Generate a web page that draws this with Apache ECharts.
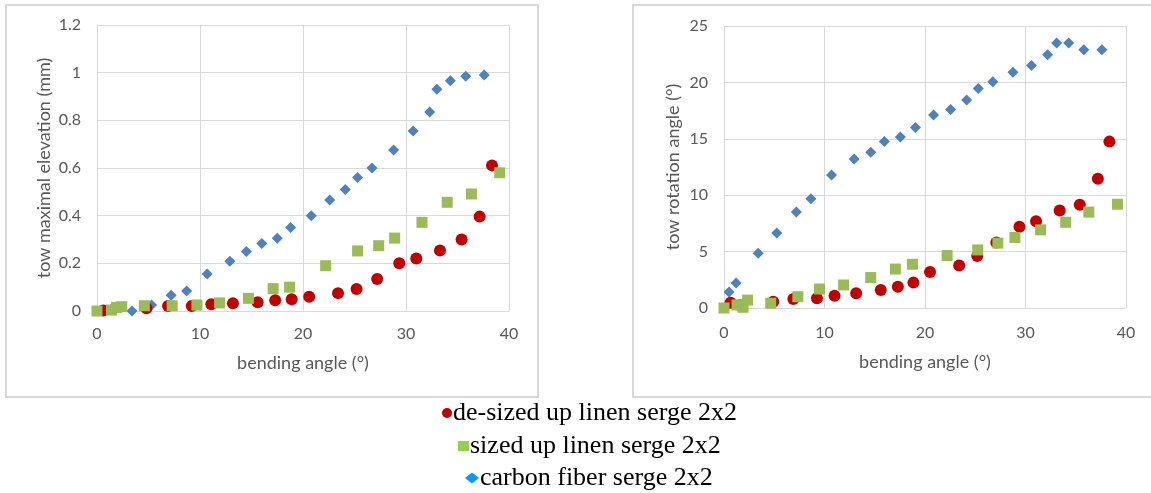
<!DOCTYPE html>
<html>
<head>
<meta charset="utf-8">
<script src="https://cdn.jsdelivr.net/npm/echarts@6/dist/echarts.min.js"></script>
<style>
  html, body { margin: 0; padding: 0; background: #fff; }
  #main { width: 1151px; height: 493px; }
</style>
</head>
<body>
<div id="main"></div>
<script>
// series names (legend)
var nameRed = 'de-sized up linen serge 2x2';
var nameGreen = 'sized up linen serge 2x2';
var nameBlue = 'carbon fiber serge 2x2';

// ticks
var xTicks = [0, 10, 20, 30, 40];
var elevTicks = [0, 0.2, 0.4, 0.6, 0.8, 1, 1.2];
var rotTicks = [0, 5, 10, 15, 20, 25];

// left chart : tow maximal elevation (mm)
var elevRedX = [0.6, 4.8, 6.9, 9.2, 11.1, 13.2, 15.6, 17.3, 18.9, 20.6, 23.4, 25.2, 27.2, 29.35, 31.0, 33.3, 35.4, 37.15, 38.35];
var elevRedY = [0.002, 0.012, 0.021, 0.021, 0.028, 0.032, 0.037, 0.045, 0.049, 0.06, 0.075, 0.092, 0.134, 0.20, 0.22, 0.254, 0.30, 0.396, 0.611];
var elevGreenX = [0, 1.4, 1.9, 2.4, 4.6, 7.3, 9.7, 11.9, 14.7, 17.1, 18.7, 22.2, 25.3, 27.35, 28.9, 31.55, 34.0, 36.35, 39.1];
var elevGreenY = [0, 0.004, 0.015, 0.018, 0.022, 0.022, 0.025, 0.034, 0.053, 0.094, 0.10, 0.19, 0.252, 0.274, 0.306, 0.372, 0.456, 0.491, 0.58];
var elevBlueX = [1.3, 3.4, 5.3, 7.2, 8.7, 10.7, 12.9, 14.5, 16.0, 17.5, 18.8, 20.8, 22.6, 24.1, 25.3, 26.7, 28.8, 30.7, 32.3, 33.0, 34.3, 35.8, 37.6];
var elevBlueY = [0.005, 0, 0.025, 0.066, 0.084, 0.155, 0.209, 0.25, 0.283, 0.305, 0.35, 0.40, 0.466, 0.51, 0.56, 0.60, 0.676, 0.755, 0.835, 0.93, 0.966, 0.985, 0.99];

// right chart : tow rotation angle (°)
var rotRedX = [0.65, 1.6, 4.9, 6.9, 9.25, 11.0, 13.15, 15.6, 17.3, 18.85, 20.5, 23.4, 25.2, 27.1, 29.4, 31.05, 33.4, 35.4, 37.2, 38.35];
var rotRedY = [0.47, 0.25, 0.56, 0.8, 0.86, 1.09, 1.3, 1.6, 1.89, 2.25, 3.2, 3.76, 4.6, 5.8, 7.2, 7.7, 8.65, 9.15, 11.45, 14.75];
var rotGreenX = [0, 1.3, 1.9, 2.35, 4.65, 7.35, 9.5, 11.9, 14.6, 17.05, 18.75, 22.2, 25.25, 27.25, 28.95, 31.5, 34.0, 36.3, 39.15];
var rotGreenY = [0, 0.27, 0.06, 0.7, 0.42, 1.0, 1.68, 2.04, 2.7, 3.45, 3.88, 4.65, 5.15, 5.75, 6.25, 6.93, 7.6, 8.5, 9.2];
var rotBlueX = [0.5, 1.2, 3.4, 5.25, 7.2, 8.65, 10.7, 12.95, 14.6, 15.95, 17.55, 19.05, 20.85, 22.55, 24.15, 25.3, 26.75, 28.75, 30.6, 32.2, 33.1, 34.3, 35.8, 37.6];
var rotBlueY = [1.42, 2.22, 4.86, 6.64, 8.5, 9.69, 11.8, 13.2, 13.8, 14.75, 15.15, 16.0, 17.1, 17.6, 18.45, 19.45, 20.05, 20.9, 21.5, 22.45, 23.5, 23.5, 22.9, 22.9];

function pairs(xs, ys) {
	return xs.map(function (x, i) { return [x, ys[i]]; });
}

var axisFont = 'Lato, "Open Sans", sans-serif';
var gridColor = '#d9d9d9';
var labelColor = '#595959';
var red = '#c00000', green = '#9bbb59', blue = '#4f81bd';

function xAxisCfg(idx, gap, margin) {
	return {
		type: 'value', gridIndex: idx,
		min: xTicks[0], max: xTicks[xTicks.length - 1], interval: xTicks[1] - xTicks[0],
		name: 'bending angle (°)', nameLocation: 'middle', nameGap: gap,
		nameTextStyle: { color: labelColor, fontSize: 18, fontFamily: axisFont },
		axisLine: { show: true, lineStyle: { color: gridColor } },
		axisTick: { show: false },
		axisLabel: { color: labelColor, fontSize: 16, fontFamily: axisFont, margin: margin },
		splitLine: { show: true, lineStyle: { color: gridColor } }
	};
}

function yAxisCfg(idx, ticks, name, gap) {
	return {
		type: 'value', gridIndex: idx,
		min: ticks[0], max: ticks[ticks.length - 1], interval: ticks[1] - ticks[0],
		name: name, nameLocation: 'middle', nameGap: gap,
		nameTextStyle: { color: labelColor, fontSize: 18, fontFamily: axisFont },
		axisLine: { show: true, lineStyle: { color: gridColor } },
		axisTick: { show: false },
		axisLabel: { color: labelColor, fontSize: 16, fontFamily: axisFont, margin: 16 },
		splitLine: { show: true, lineStyle: { color: gridColor } }
	};
}

function scatter(name, idx, data, symbol, size, color) {
	return {
		name: name, type: 'scatter', xAxisIndex: idx, yAxisIndex: idx,
		data: data, symbol: symbol, symbolSize: size,
		itemStyle: { color: color, opacity: 1 },
		emphasis: { disabled: true }
	};
}

function legendLine(name, icon, color, w, h, left, top) {
	return {
		data: [{ name: name, icon: icon, itemStyle: { color: color } }],
		left: left, top: top, itemWidth: w, itemHeight: h,
		selectedMode: false,
		textStyle: { color: '#000', fontSize: 26, fontFamily: '"Liberation Serif", "Times New Roman", serif', padding: [0, 0, 0, -4] }
	};
}

var chart = echarts.init(document.getElementById('main'));
chart.setOption({
	animation: false,
	backgroundColor: '#fff',
	graphic: [
		{ type: 'rect', shape: { x: 6, y: 5, width: 532, height: 392 }, style: { fill: null, stroke: gridColor, lineWidth: 2 }, silent: true },
		{ type: 'rect', shape: { x: 633, y: 5, width: 520, height: 392 }, style: { fill: null, stroke: gridColor, lineWidth: 2 }, silent: true }
	],
	grid: [
		{ left: 97, top: 25, width: 412, height: 286 },
		{ left: 724, top: 26, width: 402, height: 282 }
	],
	xAxis: [xAxisCfg(0, 43, 15), xAxisCfg(1, 45, 17)],
	yAxis: [
		yAxisCfg(0, elevTicks, 'tow maximal elevation (mm)', 44),
		yAxisCfg(1, rotTicks, 'tow rotation angle (°)', 42)
	],
	legend: [
		legendLine(nameRed, 'circle', red, 10, 10, 437, 395),
		legendLine(nameGreen, 'rect', '#92d050', 11, 10, 453, 428),
		legendLine(nameBlue, 'diamond', '#0099ff', 14, 11, 460, 460)
	],
	series: [
		scatter(nameBlue, 0, pairs(elevBlueX, elevBlueY), 'diamond', 11, blue),
		scatter(nameRed, 0, pairs(elevRedX, elevRedY), 'circle', 12, red),
		scatter(nameGreen, 0, pairs(elevGreenX, elevGreenY), 'rect', 11, green),
		scatter(nameBlue, 1, pairs(rotBlueX, rotBlueY), 'diamond', 11, blue),
		scatter(nameRed, 1, pairs(rotRedX, rotRedY), 'circle', 12, red),
		scatter(nameGreen, 1, pairs(rotGreenX, rotGreenY), 'rect', 11, green)
	]
});
</script>
</body>
</html>
